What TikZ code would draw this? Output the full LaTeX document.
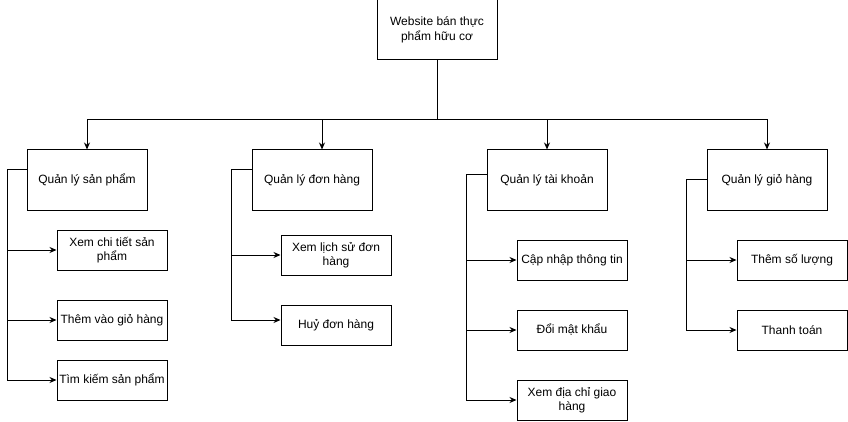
\documentclass[tikz,border=0pt]{standalone}
\usepackage{fontspec}
\setmainfont{Liberation Sans}
\usepackage{tikz}
\usetikzlibrary{arrows.meta, positioning, calc}

\begin{document}
\begin{tikzpicture}[x=1pt, y=-1pt,
    mainbox/.style={rectangle, draw, line width=1pt, minimum width=120pt, minimum height=60pt, inner sep=0pt, align=center, font=\fontsize{12}{14.4}\selectfont},
    subbox/.style={rectangle, draw, line width=1pt, minimum width=110pt, minimum height=40pt, inner sep=0pt, align=center, font=\fontsize{12}{14.4}\selectfont},
    arrow/.style={-{Stealth[length=7pt, width=6pt]}, line width=1pt},
    line/.style={line width=1pt}
]
\useasboundingbox (0,0) rectangle (848,422);

% Root
\node[mainbox] (root) at (437,30) {Website bán thực\\phẩm hữu cơ};

% Main functions
\node[mainbox] (qlsp) at (87,180) {Quản lý sản phẩm};
\node[mainbox] (qldh) at (312,180) {Quản lý đơn hàng};
\node[mainbox] (qltk) at (547,180) {Quản lý tài khoản};
\node[mainbox] (qlgh) at (767,180) {Quản lý giỏ hàng};

% Sub functions
\node[subbox] (xct) at (112,250) {Xem chi tiết sản\\phẩm};
\node[subbox] (tvgh) at (112,320) {Thêm vào giỏ hàng};
\node[subbox] (tksp) at (112,380) {Tìm kiếm sản phẩm};

\node[subbox] (xlsdh) at (336,255) {Xem lịch sử đơn\\hàng};
\node[subbox] (hdh) at (336,325) {Huỷ đơn hàng};

\node[subbox] (cntt) at (572,260) {Cập nhập thông tin};
\node[subbox] (dmk) at (572,330) {Đổi mật khẩu};
\node[subbox] (xdc) at (572,400) {Xem địa chỉ giao\\hàng};

\node[subbox] (tsl) at (792,260) {Thêm số lượng};
\node[subbox] (tt) at (792,330) {Thanh toán};

% Root to main functions
\coordinate (bus) at (437,120);
\draw[line] (root.south) -- (bus);
\draw[arrow] (bus) -| (qlsp.north);
\draw[arrow] (bus) -| ([xshift=10pt]qldh.north);
\draw[arrow] (bus) -| (qltk.north);
\draw[arrow] (bus) -| (qlgh.north);

% Main functions to sub functions
\draw[arrow] ([yshift=10pt]qlsp.west) -- ++(-19,0) |- (xct.west);
\draw[arrow] ([yshift=10pt]qlsp.west) -- ++(-19,0) |- (tvgh.west);
\draw[arrow] ([yshift=10pt]qlsp.west) -- ++(-19,0) |- (tksp.west);

\draw[arrow] ([yshift=10pt]qldh.west) -- ++(-20,0) |- (xlsdh.west);
\draw[arrow] ([yshift=10pt]qldh.west) -- ++(-20,0) |- ([yshift=5pt]hdh.west);

\draw[arrow] ([yshift=5pt]qltk.west) -- ++(-20,0) |- (cntt.west);
\draw[arrow] ([yshift=5pt]qltk.west) -- ++(-20,0) |- (dmk.west);
\draw[arrow] ([yshift=5pt]qltk.west) -- ++(-20,0) |- (xdc.west);

\draw[arrow] (qlgh.west) -- ++(-20,0) |- (tsl.west);
\draw[arrow] (qlgh.west) -- ++(-20,0) |- (tt.west);

\end{tikzpicture}
\end{document}
